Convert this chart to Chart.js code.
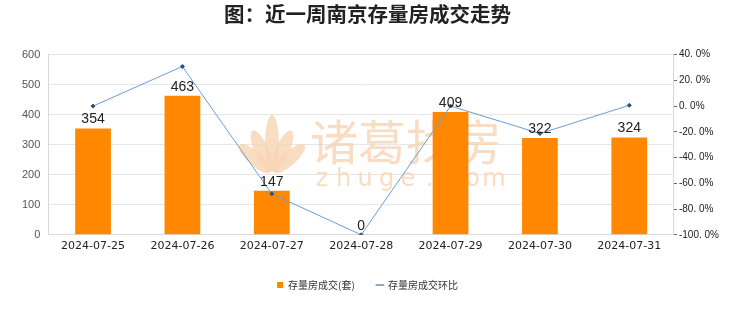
<!DOCTYPE html>
<html>
<head>
<meta charset="utf-8">
<script src="https://cdn.jsdelivr.net/npm/chart.js@4/dist/chart.umd.min.js"></script>
<style>
  html, body { margin: 0; padding: 0; background: #fff; }
  #wrap { width: 740px; height: 312px; }
</style>
</head>
<body>
<div id="wrap"><canvas id="trend"></canvas></div>
<script>
const dates = ["2024-07-25", "2024-07-26", "2024-07-27", "2024-07-28", "2024-07-29", "2024-07-30", "2024-07-31"];
const deals = [354, 463, 147, 0, 409, 322, 324];
const ringRatio = [0, 30.8, -68.2, -100, 0, -21.3, 0.6];

const cjk = '"Noto Sans CJK SC", "Liberation Sans", sans-serif';

// numbers above bars
const barLabels = {
  id: "barLabels",
  afterDatasetsDraw(chart) {
    const ctx = chart.ctx;
    const meta = chart.getDatasetMeta(1);
    ctx.save();
    ctx.font = '14px "Liberation Sans", sans-serif';
    ctx.fillStyle = "#222";
    ctx.textAlign = "center";
    ctx.textBaseline = "bottom";
    meta.data.forEach((bar, i) => {
      ctx.fillText(String(deals[i]), bar.x, bar.y - 2);
    });
    ctx.restore();
  },
};

// faint site watermark (logo + name)
const watermark = {
  id: "watermark",
  beforeDatasetsDraw(chart) {
    const ctx = chart.ctx;
    const peach = "rgba(247, 212, 180, 0.8)";
    ctx.save();
    ctx.fillStyle = peach;
    // lotus petals
    const bx = 272, by = 174;
    [-48, -24, 0, 24, 48].forEach((deg) => {
      const a = deg * Math.PI / 180;
      const len = deg === 0 ? 31 : 27 - Math.abs(deg) / 12;
      ctx.beginPath();
      ctx.ellipse(bx + Math.sin(a) * len, by - Math.cos(a) * len, 7, len * 0.9, a, 0, Math.PI * 2);
      ctx.fill();
    });
    ctx.font = '48px "Noto Sans CJK SC", sans-serif';
    ctx.textBaseline = "middle";
    ctx.textAlign = "left";
    ctx.fillText("诸葛找房", 310, 142);
    ctx.font = '24px "DejaVu Sans", sans-serif';
    ctx.textAlign = "center";
    "zhuge.com".split("").forEach((c, i) => {
      ctx.fillText(c, 322 + i * 21.5, 180);
    });
    ctx.restore();
  },
};

new Chart(document.getElementById("trend"), {
  data: {
    labels: dates,
    datasets: [
      {
        type: "line",
        label: "存量房成交环比",
        data: ringRatio,
        yAxisID: "y1",
        borderColor: "#6b9ed2",
        backgroundColor: "#2c4f7c",
        borderWidth: 1,
        pointRadius: 2,
        pointStyle: "rectRot",
        pointBackgroundColor: "#2c4f7c",
        pointBorderColor: "#2c4f7c",
        tension: 0,
        order: 0,
      },
      {
        type: "bar",
        label: "存量房成交(套)",
        data: deals,
        yAxisID: "y",
        backgroundColor: "#ff8800",
        categoryPercentage: 1,
        barPercentage: 0.4,
        order: 1,
      },
    ],
  },
  plugins: [watermark, barLabels],
  options: {
    responsive: true,
    maintainAspectRatio: false,
    animation: false,
    layout: { padding: { left: 14, right: 19, top: 0, bottom: 12 } },
    plugins: {
      title: {
        display: true,
        text: "图：近一周南京存量房成交走势",
        color: "#222",
        font: { family: cjk, size: 20.5, weight: "bold" },
        padding: { top: 2, bottom: 28 },
      },
      legend: {
        position: "bottom",
        reverse: true,
        labels: {
          color: "#333",
          font: { family: cjk, size: 10 },
          usePointStyle: true,
          boxWidth: 6,
          boxHeight: 6,
          padding: 22,
          generateLabels(chart) {
            const items = Chart.defaults.plugins.legend.labels.generateLabels(chart);
            items.forEach((it) => {
              if (it.datasetIndex === 1) {
                it.pointStyle = "rect";
                it.fillStyle = "#ff8800";
                it.strokeStyle = "#ff8800";
              } else {
                it.pointStyle = "line";
                it.strokeStyle = "#2c4f7c";
                it.lineWidth = 1;
              }
            });
            return items;
          },
        },
      },
      tooltip: { enabled: false },
    },
    scales: {
      x: {
        grid: { display: false, drawTicks: false },
        border: { color: "#d9d9d9" },
        ticks: {
          color: "#222",
          font: { family: '"DejaVu Sans", sans-serif', size: 11 },
          padding: 5,
          maxRotation: 0,
        },
      },
      y: {
        position: "left",
        min: 0,
        max: 600,
        ticks: {
          stepSize: 100,
          color: "#555",
          font: { family: '"Liberation Sans", sans-serif', size: 11 },
          padding: 8,
        },
        grid: { color: "#e6e6e6", drawTicks: false },
        border: { color: "#d9d9d9" },
      },
      y1: {
        position: "right",
        min: -100,
        max: 40,
        ticks: {
          stepSize: 10,
          color: "#222",
          font: { family: '"Liberation Sans", sans-serif', size: 10 },
          padding: 2,
          callback(v) {
            if (Math.round(v) % 20 !== 0) return "";
            return v.toFixed(1).replace(".", ". ") + "%";
          },
        },
        grid: { drawOnChartArea: false, tickLength: 3, color: "#666" },
        border: { color: "#d9d9d9" },
      },
    },
  },
});
</script>
</body>
</html>
